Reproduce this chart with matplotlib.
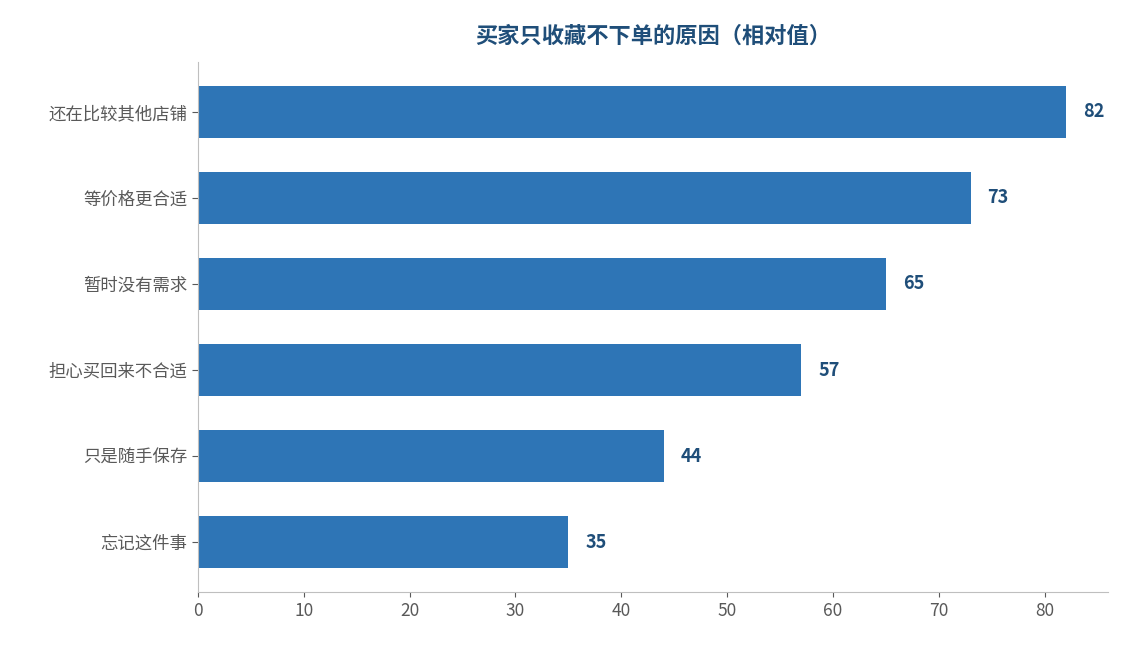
import matplotlib
matplotlib.use('Agg')
import matplotlib.pyplot as plt

plt.rcParams['font.family'] = ['Noto Sans CJK SC', 'DejaVu Sans']

reasons = ['还在比较其他店铺', '等价格更合适', '暂时没有需求', '担心买回来不合适', '只是随手保存', '忘记这件事']
values = [82, 73, 65, 57, 44, 35]

fig = plt.figure(figsize=(11.24, 6.45), dpi=100)
ax = fig.add_axes([0.176, 0.082, 0.81, 0.822])

pos = list(range(len(reasons)))
ax.barh(pos, values, height=0.6, color='#2e75b6')
for p, v in zip(pos, values):
    ax.text(v + 1.6, p, str(v), va='center', ha='left', fontsize=13,
            fontweight='bold', color='#1f4e79')

ax.set_yticks(pos)
ax.set_yticklabels(reasons)
ax.set_ylim(5.58, -0.58)
ax.set_xlim(0, 86)
ax.set_xticks(range(0, 81, 10))
ax.tick_params(axis='both', colors='#595959', labelsize=12.5)
ax.tick_params(axis='y', length=4)
for s in ['top', 'right']:
    ax.spines[s].set_visible(False)
for s in ['left', 'bottom']:
    ax.spines[s].set_color('#bfbfbf')

ax.set_title('买家只收藏不下单的原因（相对值）', fontsize=16, fontweight='bold',
             color='#1f4e79', pad=14)

fig.savefig('out.png', dpi=100)
